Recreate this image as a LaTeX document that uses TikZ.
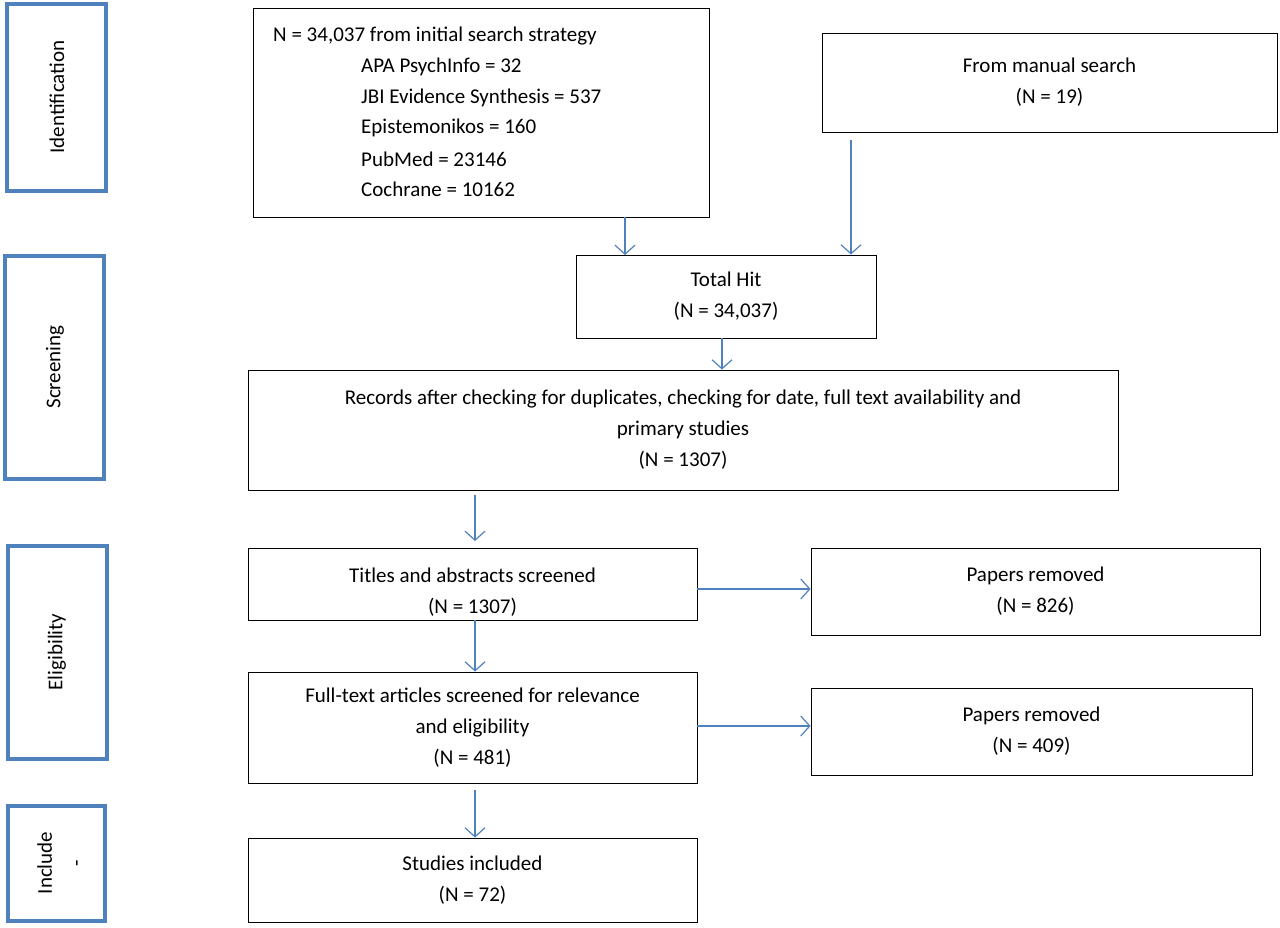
\documentclass[tikz,border=0pt]{standalone}
\usepackage{fontspec}
\setmainfont{Carlito}
\usetikzlibrary{arrows.meta}
\definecolor{bl}{RGB}{79,129,189}
\begin{document}
\begin{tikzpicture}[x=1pt,y=-1pt,
  stage/.style={draw=bl,line width=4.5pt},
  bx/.style={draw=black,line width=0.9pt},
  arr/.style={draw=bl,line width=1.2pt,-{Straight Barb[length=9pt,width=20pt,line width=1.2pt]}},
  txt/.style={font=\fontsize{21}{31}\selectfont,align=center,inner sep=0pt}]
\useasboundingbox (0,0) rectangle (1280,928);
% stages
\draw[stage] (7,4) rectangle (106,191);
\node[txt,rotate=90] (sid) at (57,97) {Identification};
\draw[stage] (5,256) rectangle (104,479);
\node[txt,rotate=90] (ssc) at (55,367) {Screening};
\draw[stage] (8,546) rectangle (107,759);
\node[txt,rotate=90] (sel) at (57,652) {Eligibility};
\draw[stage] (8,806) rectangle (105,921);
\node[txt,rotate=90] (sin) at (60,863) {Include\\-};
% boxes
\node[bx,minimum width=456pt,minimum height=209pt] (search) at (481,112.5) {};
\node[txt,anchor=west] (s0) at (273,36) {N = 34,037 from initial search strategy};
\node[txt,anchor=west] (s1) at (361,67) {APA PsychInfo = 32};
\node[txt,anchor=west] (s2) at (361,98) {JBI Evidence Synthesis = 537};
\node[txt,anchor=west] (s3) at (361,128) {Epistemonikos = 160};
\node[txt,anchor=west] (s4) at (361,159) {PubMed = 23146};
\node[txt,anchor=west] (s5) at (361,189) {Cochrane = 10162};
\node[bx,txt,minimum width=455pt,minimum height=99pt] (manual) at (1049.5,82.5) {From manual search\\(N = 19)};
\node[bx,txt,minimum width=300pt,minimum height=83pt] (total) at (726,296.5) {Total Hit\\(N = 34,037)};
\node[bx,txt,minimum width=870pt,minimum height=120pt] (rec) at (683,430) {Records after checking for duplicates, checking for date, full text availability and\\primary studies\\(N = 1307)};
\node[bx,minimum width=449pt,minimum height=72pt] (titles) at (472.5,584) {};
\begin{scope}
\clip (248,548) rectangle (697,620);
\node[txt] (tt) at (472.5,592) {Titles and abstracts screened\\(N = 1307)};
\end{scope}
\node[bx,txt,minimum width=449pt,minimum height=87pt] (rem1) at (1035.5,591.5) {Papers removed\\(N = 826)};
\node[bx,txt,minimum width=449pt,minimum height=111pt] (full) at (472.5,727.5) {Full-text articles screened for relevance\\and eligibility\\(N = 481)};
\node[bx,txt,minimum width=441pt,minimum height=87pt] (rem2) at (1031.5,731.5) {Papers removed\\(N = 409)};
\node[bx,txt,minimum width=449pt,minimum height=84pt] (stud) at (472.5,880) {Studies included\\(N = 72)};
% arrows
\coordinate (a1) at (625,255);
\draw[arr] (search.south -| a1) -- (a1);
\coordinate (m0) at (851,140);
\draw[arr] (m0) -- (m0 |- total.north);
\draw[arr] (total.south -| 722,0) -- (rec.north -| 722,0);
\coordinate (r0) at (475,495);
\coordinate (r1) at (475,541);
\draw[arr] (r0) -- (r1);
\draw[arr] (titles.south -| 475,0) -- (full.north -| 475,0);
\draw[arr] (titles.east |- 0,589) -- (rem1.west |- 0,589);
\draw[arr] (full.east |- 0,726) -- (rem2.west |- 0,726);
\coordinate (f0) at (475,790);
\draw[arr] (f0) -- (f0 |- stud.north);
\end{tikzpicture}
\end{document}
